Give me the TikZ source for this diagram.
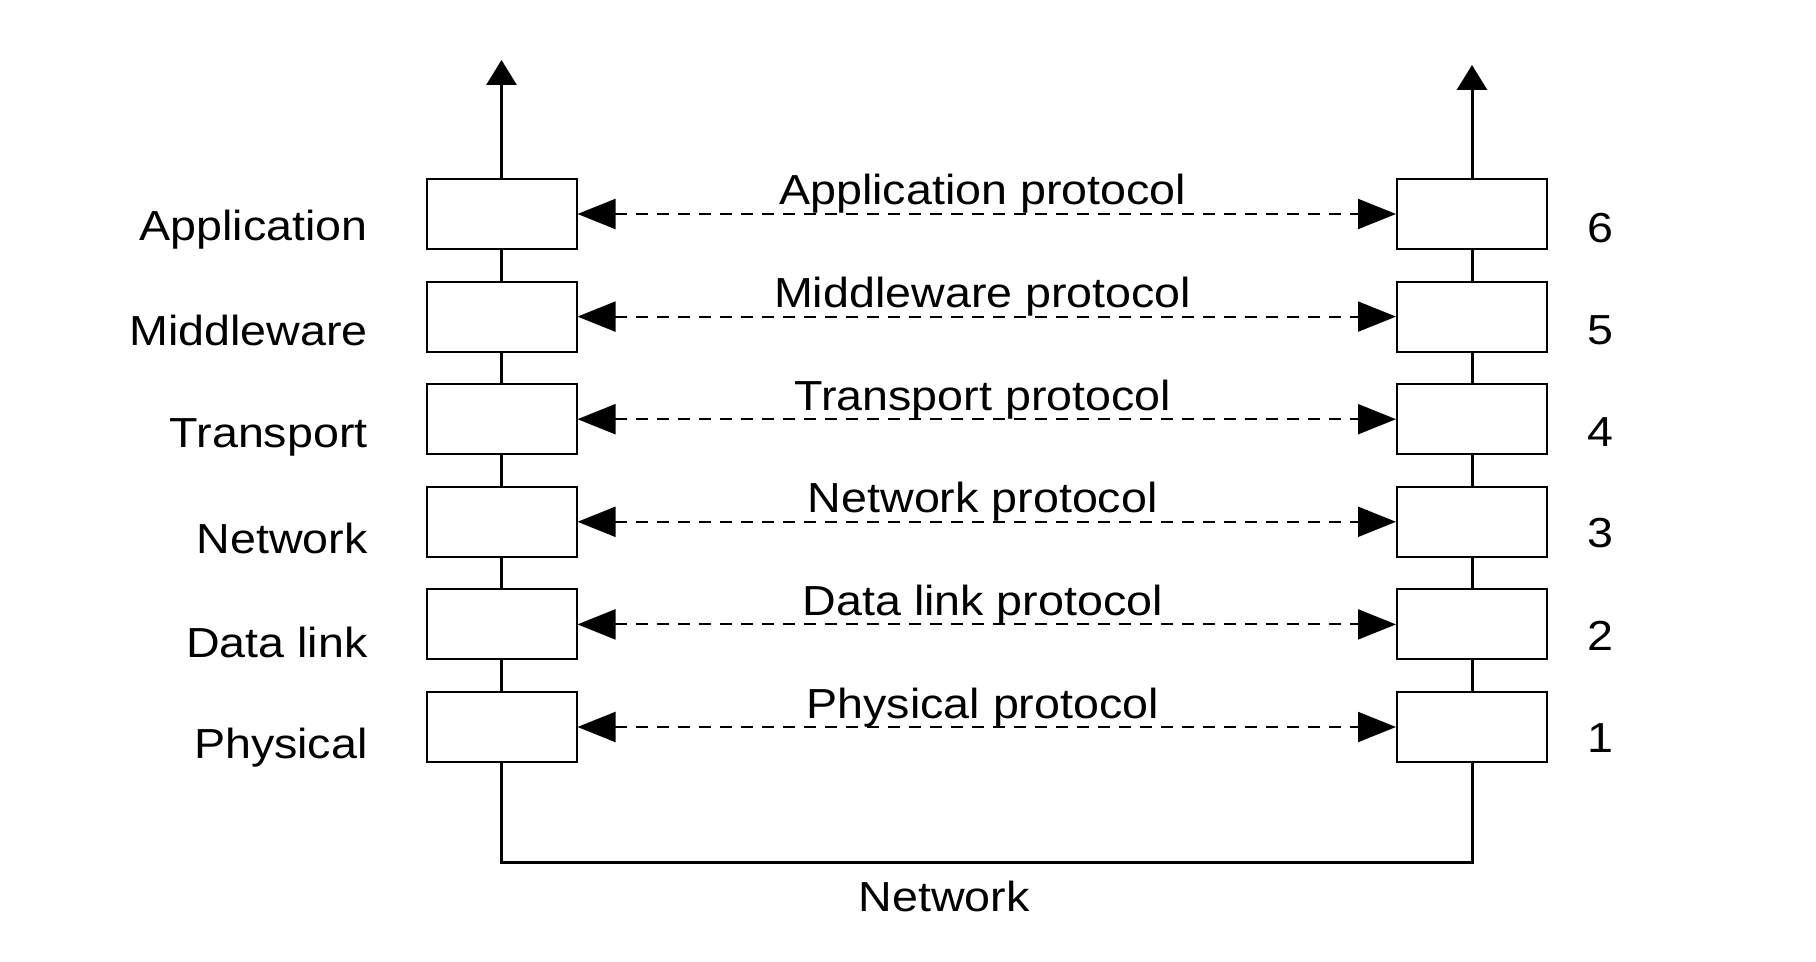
\documentclass[tikz,border=0pt]{standalone}
\usepackage{fontspec}
\setmainfont[FakeStretch=1.11]{Liberation Sans}
\usetikzlibrary{arrows.meta}
\begin{document}
\begin{tikzpicture}[x=0.5pt,y=-0.5pt,
  layerbox/.style={draw, line width=1pt, minimum width=75pt, minimum height=35pt, inner sep=0pt},
  stackline/.style={line width=1.5pt},
  uparrow/.style={line width=1.5pt, -{Triangle[length=12.5pt,width=15pt]}},
  proto/.style={line width=1pt, dash pattern=on 6pt off 4.5pt,
     {Triangle[length=19pt,width=15pt]}-{Triangle[length=19pt,width=15pt]}},
  txt/.style={font=\fontsize{21}{25}\selectfont, inner sep=0pt},
  leftlabel/.style={txt, anchor=base east},
  numlabel/.style={txt, anchor=base},
  plabel/.style={txt, anchor=base, yshift=4.5pt, xshift=-2pt}
]
\useasboundingbox (0,0) rectangle (1816,962);

% boxes
\foreach \i/\y in {1/214,2/316.6,3/419.2,4/521.8,5/624.4,6/727}{
  \node[layerbox] (L\i) at (501.5,\y) {};
  \node[layerbox] (R\i) at (1472,\y) {};
}

% labels left
\node[leftlabel] (tA) at (368,241) {Application};
\node[leftlabel] (tM) at (368,346) {Middleware};
\node[leftlabel] (tT) at (368,448) {Transport};
\node[leftlabel] (tN) at (368,553) {Network};
\node[leftlabel] (tD) at (368,657) {Data link};
\node[leftlabel] (tP) at (368,758) {Physical};

% numbers right
\node[numlabel] (n6) at (1600,243) {6};
\node[numlabel] (n5) at (1600,345) {5};
\node[numlabel] (n4) at (1600,447) {4};
\node[numlabel] (n3) at (1600,548) {3};
\node[numlabel] (n2) at (1600,650) {2};
\node[numlabel] (n1) at (1600,752) {1};

% vertical stacks
\foreach \a/\b in {1/2,2/3,3/4,4/5,5/6}{
  \draw[stackline] (L\a.south) -- (L\b.north);
  \draw[stackline] (R\a.south) -- (R\b.north);
}

% upward arrows
\coordinate (ltop) at (501.5,60);
\coordinate (rtop) at (1472,65);
\draw[uparrow] (L1.north) -- (ltop);
\draw[uparrow] (R1.north) -- (rtop);

% network
\coordinate (nl) at (501.5,862);
\coordinate (nr) at (1472,862);
\draw[stackline] (L6.south) -- (nl) -- (nr) -- (R6.south);
\node[txt, anchor=base] (net) at (944,911) {Network};

% protocols
\draw[proto] (L1.east) -- node[plabel] {Application protocol} (R1.west);
\draw[proto] (L2.east) -- node[plabel] {Middleware protocol} (R2.west);
\draw[proto] (L3.east) -- node[plabel] {Transport protocol} (R3.west);
\draw[proto] (L4.east) -- node[plabel] {Network protocol} (R4.west);
\draw[proto] (L5.east) -- node[plabel] {Data link protocol} (R5.west);
\draw[proto] (L6.east) -- node[plabel] {Physical protocol} (R6.west);
\end{tikzpicture}
\end{document}
